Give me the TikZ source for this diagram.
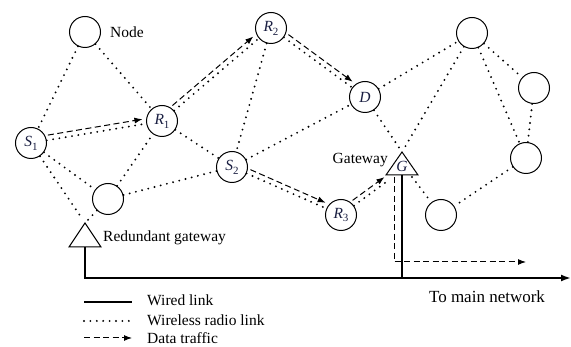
\documentclass[tikz,border=0pt]{standalone}
\usepackage{fontspec}
\setmainfont{Liberation Serif}
\usetikzlibrary{arrows.meta,calc}
\definecolor{lab}{RGB}{25,30,65}
\newcommand{\lbl}[2]{\textit{#1}\raisebox{-0.55ex}{\fontsize{11}{11}\selectfont #2}}
\begin{document}
\begin{tikzpicture}[x=1pt,y=-1pt,
  nd/.style={circle,draw,line width=1pt,minimum size=31pt,inner sep=0pt,font=\fontsize{15.5}{17}\selectfont,text=lab},
  wl/.style={line width=2.1pt,dash pattern=on 0pt off 6.4pt,line cap=round},
  trafficln/.style={line width=1pt,dash pattern=on 6pt off 3.5pt,-{Latex[length=8pt,width=6pt]}},
  hop/.style={trafficln,shorten <=18pt,shorten >=19pt},
  wired/.style={line width=1.9pt},
  tri/.style={line width=1pt,line join=miter},
  txt/.style={inner sep=0pt,font=\fontsize{15.5}{17}\selectfont}]
\useasboundingbox (0,0) rectangle (571,347);

% nodes
\node[nd] (N0) at (85,32) {};
\node[nd] (S1) at (31,143) {\lbl{S}{1}};
\node[nd] (R1) at (162,121) {\lbl{R}{1}};
\node[nd] (N5) at (108,199) {};
\node[nd] (R2) at (271,28) {\lbl{R}{2}};
\node[nd] (S2) at (232,167) {\lbl{S}{2}};
\node[nd] (D) at (365,97) {\textit{D}};
\node[nd] (R3) at (341,215) {\lbl{R}{3}};
\node[nd] (TR) at (472,33) {};
\node[nd] (RN1) at (534,88) {};
\node[nd] (RN2) at (526,158) {};
\node[nd] (BR) at (441,215) {};

% gateways
\coordinate (RGa) at (85,223);
\coordinate (RGb) at (85,247);
\draw[tri] (RGa) -- (101,247) -- (69,247) -- cycle;
\coordinate (Ga) at (402,152);
\coordinate (Gb) at (402,175);
\coordinate (Gl) at (389,180);
\coordinate (Gr) at (412,177);
\draw[tri] (Ga) -- (418,175) -- (386,175) -- cycle;
\node[txt,text=lab,font=\fontsize{15.5}{17}\selectfont\itshape] (G) at (402,166) {G};

% labels
\node[txt,anchor=west] (lnode) at (110,32) {Node};
\node[txt,anchor=east] (lgw) at (388,160) {Gateway};
\node[txt,anchor=west] (lrg) at (103,238) {Redundant gateway};
\node[txt,font=\fontsize{17}{19}\selectfont] (lmain) at (487,297) {To main network};

% wireless links
\draw[wl] (N0) -- (S1);
\draw[wl] (N0) -- (R1);
\draw[wl] (S1) -- (R1);
\draw[wl] (S1) -- (N5);
\draw[wl,shorten >=4pt] (S1) -- (RGa);
\draw[wl] (N5) -- (R1);
\draw[wl] (N5) -- (S2);
\draw[wl,shorten >=4pt] (N5) -- (RGa);
\draw[wl] (R1) -- (R2);
\draw[wl] (R1) -- (S2);
\draw[wl] (R2) -- (S2);
\draw[wl] (R2) -- (D);
\draw[wl] (S2) -- (D);
\draw[wl] (S2) -- (R3);
\draw[wl] (R3) -- (Gl);
\draw[wl,shorten >=3pt] (D) -- (Ga);
\draw[wl] (D) -- (TR);
\draw[wl,shorten >=3pt] (TR) -- (Ga);
\draw[wl] (TR) -- (RN1);
\draw[wl] (TR) -- (RN2);
\draw[wl] (RN1) -- (RN2);
\draw[wl] (RN2) -- (BR);
\draw[wl] (Gr) -- (BR);

% data traffic
\draw[hop] ($(S1)!5pt!90:(R1)$) -- ($(R1)!5pt!-90:(S1)$);
\draw[hop] ($(R1)!5pt!90:(R2)$) -- ($(R2)!5pt!-90:(R1)$);
\draw[hop] ($(R2)!5pt!90:(D)$) -- ($(D)!5pt!-90:(R2)$);
\draw[hop] ($(S2)!5pt!90:(R3)$) -- ($(R3)!5pt!-90:(S2)$);
\draw[trafficln,shorten <=18pt,shorten >=2pt] ($(R3)!5pt!90:(Gl)$) -- ($(Gl)!5pt!-90:(R3)$);
\coordinate (Tend) at (526,262);
\draw[trafficln] (394,177) -- (394,262) -- (Tend);

% wired links
\coordinate (Wend) at (571,278);
\draw[wired,-{Latex[length=10pt,width=7pt]}] (RGb) -- (85,278) -- (Wend);
\draw[wired] (Gb) -- (402,278);

% legend
\coordinate (L1a) at (84,302); \coordinate (L1b) at (132,302);
\coordinate (L2a) at (84,321); \coordinate (L2b) at (132,321);
\coordinate (L3a) at (84,338); \coordinate (L3b) at (132,338);
\draw[line width=1.5pt] (L1a) -- (L1b);
\draw[wl] (L2a) -- (L2b);
\draw[trafficln] (L3a) -- (L3b);
\node[txt,anchor=west] (t1) at (147,300) {Wired link};
\node[txt,anchor=west] (t2) at (147,320) {Wireless radio link};
\node[txt,anchor=west] (t3) at (147,338) {Data traffic};
\end{tikzpicture}
\end{document}
